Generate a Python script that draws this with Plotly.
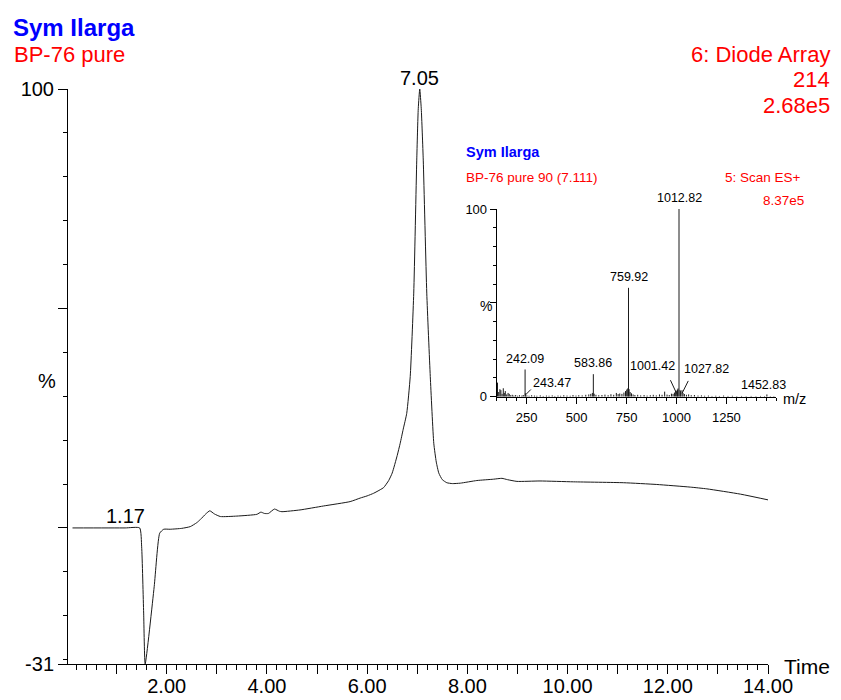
import plotly.graph_objects as go

# ---- Chromatogram: diode array trace (time in min, relative response %) ----
rt_min = [0.12, 1.17, 1.46, 1.50, 1.54, 1.57, 1.75, 1.86, 1.94, 2.07, 2.30, 2.47,
          2.60, 2.67, 2.78, 2.86, 2.95, 3.07, 3.40, 3.80, 3.88, 3.95, 4.03, 4.15,
          4.25, 4.30, 4.66, 5.13, 5.66, 5.86, 6.00, 6.13, 6.26, 6.33, 6.43, 6.50,
          6.60, 6.66, 6.72, 6.79, 6.86, 6.93, 6.99, 7.02, 7.05, 7.08, 7.12, 7.19,
          7.26, 7.33, 7.38, 7.43, 7.50, 7.59, 7.70, 7.86, 8.19, 8.52, 8.69, 8.80,
          8.99, 9.45, 10.12, 11.12, 11.78, 12.45, 12.78, 13.45, 14.08]
response_pct = [0.0, 0.0, 0.0, -4.3, -19.4, -31.0, -13.4, -1.2, -0.3, -0.3, -0.1, 0.3,
                1.2, 1.9, 3.2, 3.9, 3.2, 2.6, 2.7, 3.1, 3.6, 3.3, 3.3, 4.3,
                3.8, 3.7, 4.1, 5.0, 6.0, 6.8, 7.3, 7.9, 8.7, 9.2, 10.8, 12.5,
                16.5, 19.3, 22.5, 26.1, 34.5, 53.5, 83.8, 95.5, 100.0, 95.5, 83.8, 53.5,
                34.5, 19.3, 15.0, 12.5, 11.0, 10.3, 10.1, 10.2, 10.8, 11.1, 11.3, 11.0,
                10.6, 10.7, 10.5, 10.3, 9.9, 9.3, 8.9, 7.7, 6.2]
rt_labels = [1.17, 7.05]
rt_label_pct = [0.0, 100.0]

# ---- Mass spectrum at 7.111 min (m/z, relative abundance %) ----
ion_mz = [242.09, 243.47, 583.86, 759.92, 1001.42, 1012.82, 1027.82, 1452.83]
ion_pct = [14.5, 1.8, 12.0, 58.0, 3.2, 100.0, 3.5, 1.2]

noise_mz = [104, 110, 116, 121, 127, 133, 138, 143, 150, 157, 163, 170, 178, 186, 195,
            205, 214, 226, 233, 251, 262, 275, 289, 301, 318, 333, 349, 362, 378, 391,
            407, 420, 436, 452, 468, 482, 497, 511, 528, 546, 561, 571, 579, 588, 597,
            611, 627, 642, 658, 672, 686, 699, 708, 716, 727, 737, 745, 751, 756, 763,
            768, 775, 783, 792, 806, 821, 838, 853, 869, 884, 899, 915, 928, 941, 953,
            964, 975, 983, 990, 996, 1005, 1008, 1018, 1021, 1033, 1040, 1050, 1061, 1074, 1090,
            1108, 1125, 1141, 1160, 1178, 1197, 1215, 1236, 1258, 1280, 1302, 1326, 1349, 1374, 1398,
            1421, 1441, 1470, 1488]
noise_pct = [7.5, 2.5, 4.0, 3.5, 1.5, 4.5, 2.0, 3.0, 1.2, 2.0, 1.5, 0.8, 1.0, 0.6, 0.9,
             0.5, 0.8, 0.6, 0.9, 0.7, 0.5, 0.8, 0.6, 0.5, 0.7, 0.4, 0.6, 0.5, 0.7, 0.4,
             0.6, 0.5, 0.8, 0.6, 0.5, 0.9, 0.6, 0.8, 0.7, 1.0, 1.2, 1.5, 2.0, 1.6, 1.0,
             0.8, 0.9, 1.1, 0.8, 1.3, 1.0, 2.0, 1.4, 1.7, 1.5, 2.2, 3.0, 3.8, 4.4, 4.0,
             2.5, 1.8, 1.2, 0.9, 1.0, 0.7, 0.9, 0.6, 0.8, 1.0, 0.7, 1.2, 1.0, 2.7, 1.1,
             0.9, 1.6, 1.5, 2.2, 3.2, 3.8, 4.4, 3.6, 3.0, 2.0, 1.4, 1.0, 1.2, 0.8, 0.9,
             0.6, 0.7, 0.5, 0.6, 0.4, 0.5, 0.4, 0.6, 0.4, 0.5, 0.3, 0.4, 0.3, 0.4, 0.3,
             0.4, 0.3, 0.3, 0.3]

# tick marks
rt_ticks = list(range(1, 15))
rt_ticktext = [f"{v}.00" if v % 2 == 0 else "" for v in rt_ticks]
ms_ticks = [250, 500, 750, 1000, 1250]

W, H = 841, 700
ML, MR, MT, MB = 68, 30, 89, 36
PW, PH = W - ML - MR, H - MT - MB

def xp(px):
    return (px - ML) / PW

def yp(py):
    return (H - MB - py) / PH

SANS = "Liberation Sans, Arial, sans-serif"
RED = "#ff0000"
BLUE = "#0000ff"
INK = "#1a1a1a"

fig = go.Figure()

fig.add_trace(go.Scatter(
    x=rt_min, y=response_pct, mode="lines",
    line=dict(color=INK, width=1, shape="spline", smoothing=0.5),
    xaxis="x", yaxis="y", hoverinfo="skip", showlegend=False,
))

# stick spectrum: each ion drawn as a vertical line from the baseline
all_mz = noise_mz + ion_mz
all_pct = noise_pct + ion_pct
stick_x, stick_y = [], []
for m, p in zip(all_mz, all_pct):
    stick_x += [m, m, None]
    stick_y += [0, p, None]
fig.add_trace(go.Scatter(
    x=stick_x, y=stick_y, mode="lines",
    line=dict(color=INK, width=1),
    xaxis="x2", yaxis="y2", hoverinfo="skip", showlegend=False,
))

axis_common = dict(showgrid=False, zeroline=False, showline=True,
                   linecolor="black", linewidth=1, ticks="outside",
                   tickcolor="black", tickwidth=1, automargin=False)

fig.update_layout(
    width=W, height=H,
    margin=dict(l=ML, r=MR, t=MT, b=MB, autoexpand=False),
    paper_bgcolor="white", plot_bgcolor="rgba(0,0,0,0)",
    showlegend=False,
    xaxis=dict(
        **axis_common, domain=[0, 700 / PW], range=[0.03, 14.0],
        tickmode="array", tickvals=rt_ticks, ticktext=rt_ticktext, ticklen=9,
        ticklabelstandoff=-5,
        tickfont=dict(family=SANS, size=20, color="black"),
        minor=dict(ticks="outside", dtick=0.2, tick0=0, ticklen=5,
                   tickcolor="black", tickwidth=1),
        anchor="y",
    ),
    yaxis=dict(
        **axis_common, domain=[0, 1], range=[-31, 100],
        tickmode="array", tickvals=[-31, 0, 50, 100],
        ticktext=["-31", "", "", "100"], ticklen=9,
        tickfont=dict(family=SANS, size=20, color="black"),
        minor=dict(ticks="outside", dtick=10, tick0=0, ticklen=4,
                   tickcolor="black", tickwidth=1),
        anchor="x",
    ),
    xaxis2=dict(
        **axis_common, domain=[xp(496.7), xp(776.3)], range=[100, 1500],
        tickmode="array", tickvals=ms_ticks, ticklen=6, ticklabelstandoff=3,
        tickfont=dict(family=SANS, size=13, color="black"),
        minor=dict(ticks="outside", dtick=50, tick0=0, ticklen=3,
                   tickcolor="black", tickwidth=1),
        anchor="y2",
    ),
    yaxis2=dict(
        **axis_common, domain=[yp(396.7), yp(209)], range=[0, 100],
        tickmode="array", tickvals=[0, 50, 100], ticktext=["0", "", "100"],
        ticklen=6,
        tickfont=dict(family=SANS, size=13, color="black"),
        minor=dict(ticks="outside", dtick=10, tick0=0, ticklen=3,
                   tickcolor="black", tickwidth=1),
        anchor="x2",
    ),
)

ann = []

def paper_text(text, px, py, anchor, size, color, bold=False):
    if bold:
        text = f"<b>{text}</b>"
    ann.append(dict(text=text, xref="paper", yref="paper", x=xp(px), y=yp(py),
                    xanchor=anchor, yanchor="middle", showarrow=False,
                    font=dict(family=SANS, size=size, color=color)))

# headers of the chromatogram
paper_text("Sym Ilarga", 11, 27, "left", 24, BLUE, bold=True)
paper_text("BP-76 pure", 12, 55, "left", 22, RED)
paper_text("6: Diode Array", 832, 55, "right", 22, RED)
paper_text("214", 832, 80, "right", 22, RED)
paper_text("2.68e5", 832, 105, "right", 22, RED)
paper_text("%", 47, 381, "center", 20, "black")
paper_text("Time", 782, 666, "left", 21, "black")

# headers of the spectrum
paper_text("Sym Ilarga", 464, 152, "left", 14.5, BLUE, bold=True)
paper_text("BP-76 pure 90 (7.111)", 464, 177, "left", 13.5, RED)
paper_text("5: Scan ES+", 803, 177, "right", 13.5, RED)
paper_text("8.37e5", 806, 200, "right", 13.5, RED)
paper_text("%", 486, 306, "center", 14, "black")
paper_text("m/z", 781, 399, "left", 14.5, "black")

# retention time labels
for t, v in zip(rt_labels, rt_label_pct):
    ann.append(dict(text=f"{t:.2f}", xref="x", yref="y", x=t, y=v,
                    xanchor="center", yanchor="middle", yshift=11.5,
                    showarrow=False, font=dict(family=SANS, size=20, color="black")))

# ion labels: (anchor, x shift, y shift)
ion_label_pos = {
    242.09: ("center", 0, 10),
    243.47: ("left", 6, 10),
    583.86: ("center", 0, 11),
    759.92: ("center", 0, 11),
    1001.42: ("right", 0, 25),
    1012.82: ("center", 0, 11),
    1027.82: ("left", 0, 21),
    1452.83: ("center", -3, 9),
}
for m, p in zip(ion_mz, ion_pct):
    anchor, dx, dy = ion_label_pos[m]
    ann.append(dict(text=f"{m:.2f}", xref="x2", yref="y2", x=m, y=p,
                    xanchor=anchor, yanchor="middle", xshift=dx, yshift=dy,
                    showarrow=False,
                    font=dict(family=SANS, size=12.5, color="black")))

# leader lines for the labels sitting beside small ions
leaders = {243.47: (7, -7), 1001.42: (-7, -15), 1027.82: (7, -14)}
for m, p in zip(ion_mz, ion_pct):
    if m in leaders:
        ax, ay = leaders[m]
        ann.append(dict(text="", xref="x2", yref="y2", x=m, y=p * 0.5,
                        showarrow=True, arrowhead=0, arrowwidth=1,
                        arrowcolor=INK, ax=ax, ay=ay, standoff=0))

fig.update_layout(annotations=ann)
fig.write_html("out.html")
